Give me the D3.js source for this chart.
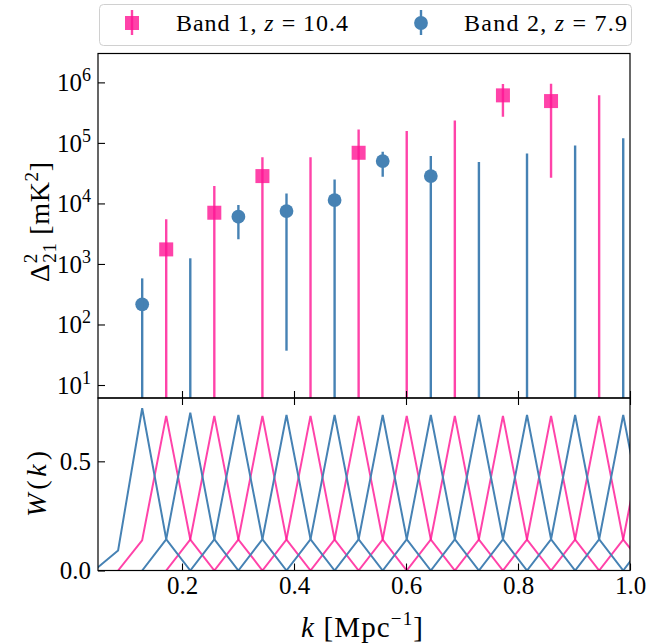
<!DOCTYPE html>
<html><head><meta charset="utf-8">
<script src="https://cdn.jsdelivr.net/npm/d3@7"></script>
<style>
body{margin:0;background:#fff;}
svg{display:block;}
text{font-family:"Liberation Serif","Times New Roman",serif;fill:#000;}
</style>
</head><body>
<svg id="chart" width="662" height="643"></svg>
<script>
// ---------------- data ----------------
const band1Label = "Band 1, ";
const band1Z = "10.4";
const band2Label = "Band 2, ";
const band2Z = "7.9";

// Band 1 (z = 10.4): bin centres, measured value (null = not shown), upper / lower error ends (null = off the axis)
const kBand1 = [0.1718, 0.2577, 0.3436, 0.4295, 0.5154, 0.6013, 0.6872, 0.7731, 0.8590, 0.9449];
const band1Value = [1740, 7020, 28300, null, 68700, null, null, 610000, 491000, null];
const band1Upper = [5460, 19400, 57700, 57700, 167000, 157000, 235000, 937000, 948000, 610000];
const band1Lower = [null, null, null, null, null, null, null, 270000, 26500, null];

// Band 2 (z = 7.9)
const kBand2 = [0.1289, 0.2148, 0.3007, 0.3866, 0.4725, 0.5584, 0.6443, 0.7302, 0.8161, 0.9020, 0.9879];
const band2Value = [215, null, 6030, 7480, 11380, 50100, 28300, null, null, null, null];
const band2Upper = [578, 1240, 9400, 14650, 24950, 71400, 60700, 48200, 67100, 91000, 119000];
const band2Lower = [null, null, 2550, 36.9, null, 27600, null, null, null, null, null];

// Window functions: peak positions, sample offsets in k and the sampled W values
const windowOffsets = [-0.0859, -0.0430, 0, 0.0430, 0.0859];
const band1WindowK = [0.1718, 0.2577, 0.3436, 0.4295, 0.5154, 0.6013, 0.6872, 0.7731, 0.8590, 0.9449, 1.0308];
const band1WindowW = [
  [0, 0.138, 0.708, 0.142, 0],
  [0, 0.142, 0.708, 0.142, 0],
  [0, 0.142, 0.708, 0.142, 0],
  [0, 0.142, 0.708, 0.142, 0],
  [0, 0.142, 0.708, 0.142, 0],
  [0, 0.142, 0.708, 0.142, 0],
  [0, 0.142, 0.708, 0.142, 0],
  [0, 0.142, 0.708, 0.142, 0],
  [0, 0.142, 0.708, 0.142, 0],
  [0, 0.142, 0.708, 0.142, 0],
  [0, 0.142, 0.708, 0.142, 0]
];
const band2WindowK = [0.1289, 0.2148, 0.3007, 0.3866, 0.4725, 0.5584, 0.6443, 0.7302, 0.8161, 0.9020, 0.9879, 1.0738];
const band2WindowW = [
  [0, 0.092, 0.743, 0.143, 0],
  [0, 0.143, 0.723, 0.143, 0],
  [0, 0.143, 0.712, 0.143, 0],
  [0, 0.143, 0.712, 0.143, 0],
  [0, 0.143, 0.712, 0.143, 0],
  [0, 0.143, 0.712, 0.143, 0],
  [0, 0.143, 0.712, 0.143, 0],
  [0, 0.143, 0.712, 0.143, 0],
  [0, 0.143, 0.712, 0.143, 0],
  [0, 0.143, 0.712, 0.143, 0],
  [0, 0.143, 0.712, 0.143, 0],
  [0, 0.143, 0.712, 0.143, 0]
];

const xTickValues = [0.2, 0.4, 0.6, 0.8, 1.0];
const xTickLabels = ["0.2", "0.4", "0.6", "0.8", "1.0"];
const yTickValues = [1e1, 1e2, 1e3, 1e4, 1e5, 1e6];
const yTickExponents = ["1", "2", "3", "4", "5", "6"];
const wTickValues = [0, 0.5];
const wTickLabels = ["0.0", "0.5"];

// ---------------- layout ----------------
const pink = "#ff1493", pinkAlpha = 0.8;
const blue = "#4682b4";
const L = 98, R = 630, T1 = 53.5, B1 = 398, B2 = 570.5;

const svg = d3.select("#chart");
const x = d3.scaleLinear().domain([0.05, 1.0]).range([L, R]);
const y = d3.scaleLog().domain([6.1, 3.0e6]).range([B1, T1]);
const w = d3.scaleLinear().domain([0, 0.79]).range([B2, B1]);

const defs = svg.append("defs");
defs.append("clipPath").attr("id", "clipTop").append("rect")
  .attr("x", L).attr("y", T1).attr("width", R - L).attr("height", B1 - T1);
defs.append("clipPath").attr("id", "clipBot").append("rect")
  .attr("x", L).attr("y", B1).attr("width", R - L).attr("height", B2 - B1);

// ---------------- top panel ----------------
const topG = svg.append("g").attr("clip-path", "url(#clipTop)");
function drawBand(ks, vals, ups, lows, color, alpha, shape) {
  const g = topG.append("g");
  const d = ks.map((k, i) => ({k, v: vals[i], u: ups[i], l: lows[i]}));
  d.filter(p => p.v !== null).forEach(p => {
    if (shape === "square") {
      g.append("rect").attr("x", x(p.k) - 7).attr("y", y(p.v) - 7)
        .attr("width", 14).attr("height", 14)
        .attr("fill", color).attr("fill-opacity", alpha);
    } else {
      g.append("circle").attr("cx", x(p.k)).attr("cy", y(p.v)).attr("r", 6.9)
        .attr("fill", color).attr("fill-opacity", alpha);
    }
  });
  g.selectAll("line.err").data(d).enter().append("line").attr("class", "err")
    .attr("x1", p => x(p.k)).attr("x2", p => x(p.k))
    .attr("y1", p => y(p.u))
    .attr("y2", p => p.l === null ? B1 + 5 : y(p.l))
    .attr("stroke", color).attr("stroke-opacity", alpha).attr("stroke-width", 2.4);
}
drawBand(kBand1, band1Value, band1Upper, band1Lower, pink, pinkAlpha, "square");
drawBand(kBand2, band2Value, band2Upper, band2Lower, blue, 1, "circle");

const yAxis = svg.append("g").attr("transform", `translate(${L},0)`)
  .call(d3.axisLeft(y).tickValues(yTickValues).tickSize(-7).tickPadding(8).tickFormat(""));
yAxis.select(".domain").remove();
yAxis.selectAll(".tick line").attr("stroke", "#000").attr("stroke-width", 1.1);
yAxis.selectAll(".tick").each(function(dv, i) {
  const t = d3.select(this).append("text").attr("x", -7).attr("y", 0)
    .attr("text-anchor", "end").attr("dy", "0.34em").style("font-size", "25px");
  t.append("tspan").text("10");
  t.append("tspan").text(yTickExponents[i]).attr("dy", "-10").style("font-size", "18px");
});
const xTopPanel = svg.append("g").attr("transform", `translate(0,${B1})`)
  .call(d3.axisBottom(x).tickValues(xTickValues).tickSize(-7).tickFormat(""));
xTopPanel.select(".domain").remove();
xTopPanel.selectAll(".tick line").attr("stroke", "#000").attr("stroke-width", 1.1);

// ---------------- bottom panel ----------------
const botG = svg.append("g").attr("clip-path", "url(#clipBot)");
const line = d3.line().x(p => x(p[0])).y(p => w(p[1]));
function drawWindows(peaks, rows, color, alpha) {
  const series = peaks.map((kc, i) => windowOffsets.map((o, j) => [kc + o, rows[i][j]]));
  botG.append("g").selectAll("path").data(series).enter().append("path")
    .attr("d", line).attr("fill", "none").attr("stroke", color)
    .attr("stroke-opacity", alpha).attr("stroke-width", 2).attr("stroke-linejoin", "miter");
}
drawWindows(band1WindowK, band1WindowW, pink, pinkAlpha);
drawWindows(band2WindowK, band2WindowW, blue, 1);

const wAxis = svg.append("g").attr("transform", `translate(${L},0)`)
  .call(d3.axisLeft(w).tickValues(wTickValues).tickSize(-7).tickPadding(7)
    .tickFormat((dv, i) => wTickLabels[i]));
wAxis.select(".domain").remove();
wAxis.selectAll(".tick line").attr("stroke", "#000").attr("stroke-width", 1.1);
wAxis.selectAll(".tick text").style("font-size", "25px");

const xAxis = svg.append("g").attr("transform", `translate(0,${B2})`)
  .call(d3.axisBottom(x).tickValues(xTickValues).tickSize(-7).tickPadding(6)
    .tickFormat((dv, i) => xTickLabels[i]));
xAxis.select(".domain").remove();
xAxis.selectAll(".tick line").attr("stroke", "#000").attr("stroke-width", 1.1);
xAxis.selectAll(".tick text").style("font-size", "25px");

const xBotTop = svg.append("g").attr("transform", `translate(0,${B1})`)
  .call(d3.axisTop(x).tickValues(xTickValues).tickSize(-7).tickFormat(""));
xBotTop.select(".domain").remove();
xBotTop.selectAll(".tick line").attr("stroke", "#000").attr("stroke-width", 1.1);

svg.append("rect").attr("x", L).attr("y", T1).attr("width", R - L).attr("height", B1 - T1)
  .attr("fill", "none").attr("stroke", "#000").attr("stroke-width", 1.2);
svg.append("rect").attr("x", L).attr("y", B1).attr("width", R - L).attr("height", B2 - B1)
  .attr("fill", "none").attr("stroke", "#000").attr("stroke-width", 1.2);

// ---------------- axis labels ----------------
const yl = svg.append("text").attr("transform", "translate(49,222) rotate(-90)")
  .attr("text-anchor", "middle").style("font-size", "28px")
  .attr("textLength", 120).attr("lengthAdjust", "spacing");
yl.append("tspan").text("Δ");
yl.append("tspan").text("2").attr("dy", -12).style("font-size", "19px");
yl.append("tspan").text("21").attr("dx", -9.5).attr("dy", 19).style("font-size", "19px");
yl.append("tspan").text(" [mK").attr("dy", -7);
yl.append("tspan").text("2").attr("dy", -11).style("font-size", "19px");
yl.append("tspan").text("]").attr("dy", 11);

const wl = svg.append("text").attr("transform", "translate(46,484) rotate(-90)")
  .attr("text-anchor", "middle").style("font-size", "28px")
  .attr("textLength", 66).attr("lengthAdjust", "spacing");
wl.append("tspan").text("W").style("font-style", "italic");
wl.append("tspan").text("(");
wl.append("tspan").text("k").style("font-style", "italic");
wl.append("tspan").text(")");

const xl = svg.append("text").attr("x", 362).attr("y", 637)
  .attr("text-anchor", "middle").style("font-size", "29px")
  .attr("textLength", 122).attr("lengthAdjust", "spacing");
xl.append("tspan").text("k").style("font-style", "italic");
xl.append("tspan").text(" [Mpc");
xl.append("tspan").text("−1").attr("dy", -12).style("font-size", "19px");
xl.append("tspan").text("]").attr("dy", 12);

// ---------------- legend ----------------
const lg = svg.append("g");
lg.append("rect").attr("x", 99.5).attr("y", 4.5).attr("width", 532).attr("height", 41)
  .attr("rx", 4).attr("fill", "#fff").attr("stroke", "#d0d0d0").attr("stroke-width", 1);
lg.append("rect").attr("x", 132 - 7).attr("y", 23 - 7).attr("width", 14).attr("height", 14)
  .attr("fill", pink).attr("fill-opacity", pinkAlpha);
lg.append("line").attr("x1", 132).attr("x2", 132).attr("y1", 10).attr("y2", 35)
  .attr("stroke", pink).attr("stroke-opacity", pinkAlpha).attr("stroke-width", 2.4);
const t1 = lg.append("text").attr("x", 176).attr("y", 31).style("font-size", "24px")
  .attr("textLength", 172).attr("lengthAdjust", "spacing");
t1.append("tspan").text(band1Label);
t1.append("tspan").text("z").style("font-style", "italic");
t1.append("tspan").text(" = " + band1Z);
lg.append("line").attr("x1", 421).attr("x2", 421).attr("y1", 10).attr("y2", 35)
  .attr("stroke", blue).attr("stroke-width", 2.4);
lg.append("circle").attr("cx", 421).attr("cy", 23).attr("r", 6.9).attr("fill", blue);
const t2 = lg.append("text").attr("x", 464).attr("y", 31).style("font-size", "24px")
  .attr("textLength", 163).attr("lengthAdjust", "spacing");
t2.append("tspan").text(band2Label);
t2.append("tspan").text("z").style("font-style", "italic");
t2.append("tspan").text(" = " + band2Z);
</script>
</body></html>
